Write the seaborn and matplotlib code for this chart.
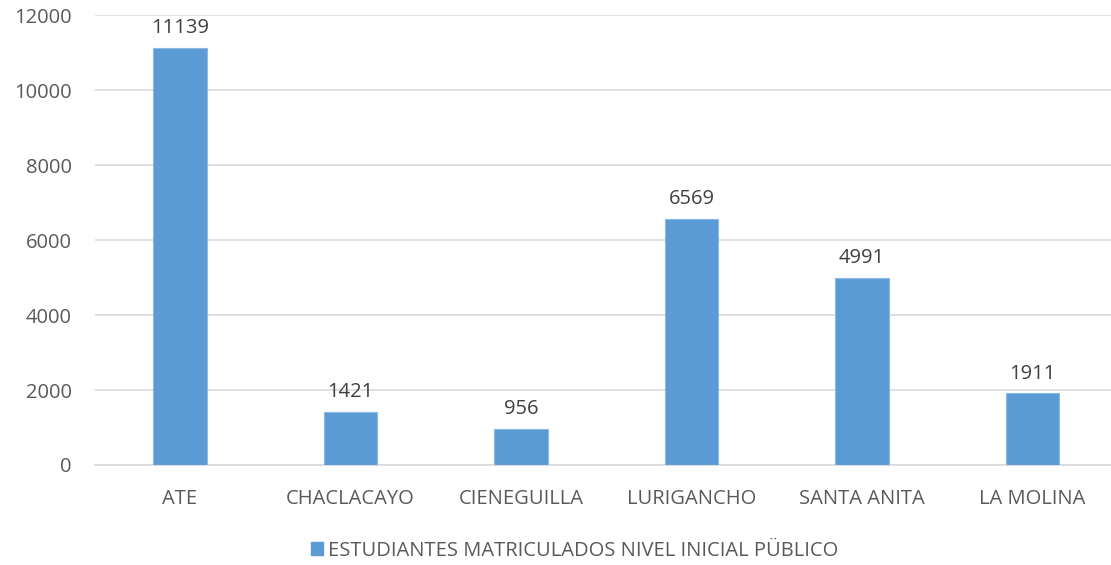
import matplotlib
matplotlib.use("Agg")
import matplotlib.pyplot as plt
import matplotlib.patches as mpatches
import pandas as pd
import seaborn as sns

distritos = ["ATE", "CHACLACAYO", "CIENEGUILLA", "LURIGANCHO", "SANTA ANITA", "LA MOLINA"]
estudiantes = [11139, 1421, 956, 6569, 4991, 1911]
serie = "ESTUDIANTES MATRICULADOS NIVEL INICIAL PÜBLICO"
yticks = [0, 2000, 4000, 6000, 8000, 10000, 12000]

df = pd.DataFrame({"Distrito": distritos, "Estudiantes": estudiantes})

sns.set_style("white")
plt.rcParams['font.family'] = ['Open Sans', 'DejaVu Sans']

bar_color = '#5B9BD5'
txt_color = '#595959'
fs = 14.5

fig = plt.figure(figsize=(11.11, 5.65), dpi=100)
# plot area runs a bit past the right edge of the image, like the source
ax = fig.add_axes([0.0853, 0.177, 0.9208, 0.796])

sns.barplot(x="Distrito", y="Estudiantes", data=df, color=bar_color,
            width=0.315, saturation=1, ax=ax, zorder=3,
            edgecolor='#8DB8E2', linewidth=0.8)

ax.set_ylim(0, 12000)
ax.set_yticks(yticks)
ax.set_xlim(-0.5, len(distritos) - 0.5)
ax.yaxis.grid(True, color='#D9D9D9', linewidth=1.2, zorder=0)
ax.set_axisbelow(True)
for s in ["top", "right", "left"]:
    ax.spines[s].set_visible(False)
ax.spines["bottom"].set_color('#D9D9D9')
ax.spines["bottom"].set_linewidth(1.2)
ax.tick_params(axis='both', length=0, labelsize=fs, colors=txt_color)
ax.tick_params(axis='x', pad=17)
ax.tick_params(axis='y', pad=16.5)
ax.set_xlabel("")
ax.set_ylabel("")

for c in ax.containers:
    ax.bar_label(c, labels=[str(v) for v in estudiantes], padding=7,
                 fontsize=fs, color='#404040')

handle = mpatches.Patch(color=bar_color, label=serie)
fig.legend(handles=[handle], loc='center', bbox_to_anchor=(0.517, 0.025),
           frameon=False, fontsize=fs, labelcolor=txt_color,
           handlelength=0.6, handleheight=0.6, handletextpad=0.25)

fig.savefig("out.png", dpi=100)
